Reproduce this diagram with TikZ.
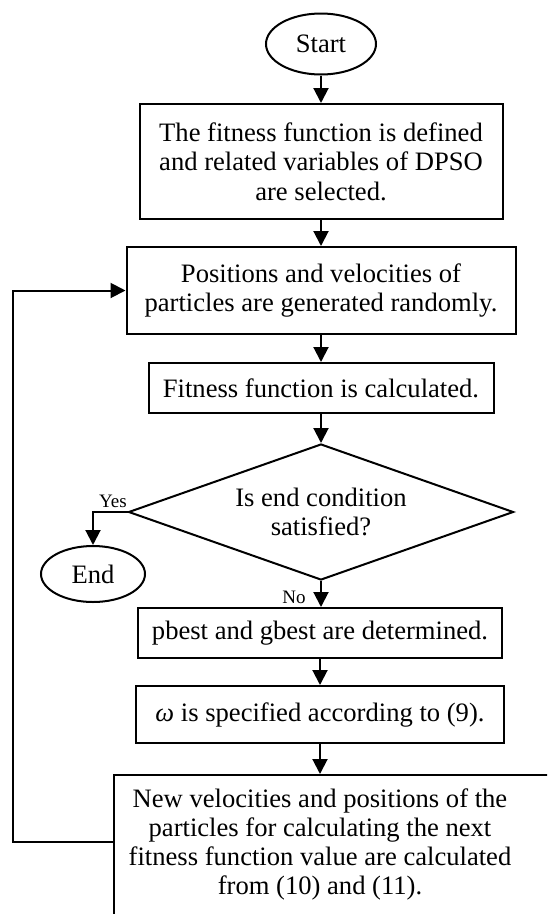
\documentclass[tikz,border=0pt]{standalone}
\usepackage{fontspec}
\setmainfont{Liberation Serif}
\usetikzlibrary{shapes.geometric,arrows.meta}
\begin{document}
\begin{tikzpicture}[x=1pt,y=-1pt,
  every node/.style={font=\fontsize{26.6}{29.5}\selectfont},
  box/.style={draw,line width=2pt,rectangle,align=center,inner sep=0pt},
  oval/.style={draw,line width=2pt,ellipse,inner sep=0pt},
  dec/.style={draw,line width=2pt,diamond,align=center,inner sep=0pt,aspect=2.83},
  lab/.style={font=\fontsize{19}{20}\selectfont,inner sep=0pt},
  arr/.style={line width=2pt,-{Triangle[length=15pt,width=15pt]}},
  ln/.style={line width=2pt}]
\useasboundingbox (0,0) rectangle (547,914);
\clip (0,0) rectangle (547,914);
\node[oval,minimum width=110pt,minimum height=61pt] (start) at (321,44) {Start};
\node[box,minimum width=363pt,minimum height=115pt] (b1) at (321,161.5)
  {The fitness function is defined\\and related variables of DPSO\\are selected.};
\node[box,minimum width=389pt,minimum height=87pt] (b2) at (321,290.5)
  {Positions and velocities of\\particles are generated randomly.};
\node[box,minimum width=345pt,minimum height=50pt] (b3) at (321,388)
  {Fitness function is calculated.};
\node[dec,minimum width=385pt,minimum height=136pt] (d) at (321,512)
  {Is end condition\\satisfied?};
\node[oval,minimum width=104pt,minimum height=56pt] (e) at (93,574) {End};
\node[box,minimum width=364pt,minimum height=50pt] (b4) at (320,633)
  {pbest and gbest are determined.};
\node[box,minimum width=368pt,minimum height=57pt] (b5) at (320,714.5)
  {{\itshape ω} is specified according to (9).};
\node[box,minimum width=460pt,minimum height=200pt,anchor=north west] (b6) at (113,774) {};
\node[inner sep=0pt,align=center,anchor=north,font=\fontsize{26.6}{29}\selectfont] (b6t) at (320,789)
  {New velocities and positions of the\\particles for calculating the next\\fitness function value are calculated\\from (10) and (11).};
\node[lab] (yes) at (113,501) {Yes};
\node[lab] (no) at (294,597) {No};
\coordinate (fb) at (113,842);
\coordinate (lp) at (13,842);
\draw[arr] (start) -- (b1);
\draw[arr] (b1) -- (b2);
\draw[arr] (b2) -- (b3);
\draw[arr] (b3) -- (d);
\draw[arr] (d.west) -| (e.north);
\draw[arr] (d.south) -- (d.south |- b4.north);
\draw[arr] (b4) -- (b5);
\draw[arr] (b5.south) -- (b5.south |- b6.north);
\draw[arr] (fb) -- (lp) |- (b2.west);
\end{tikzpicture}
\end{document}
